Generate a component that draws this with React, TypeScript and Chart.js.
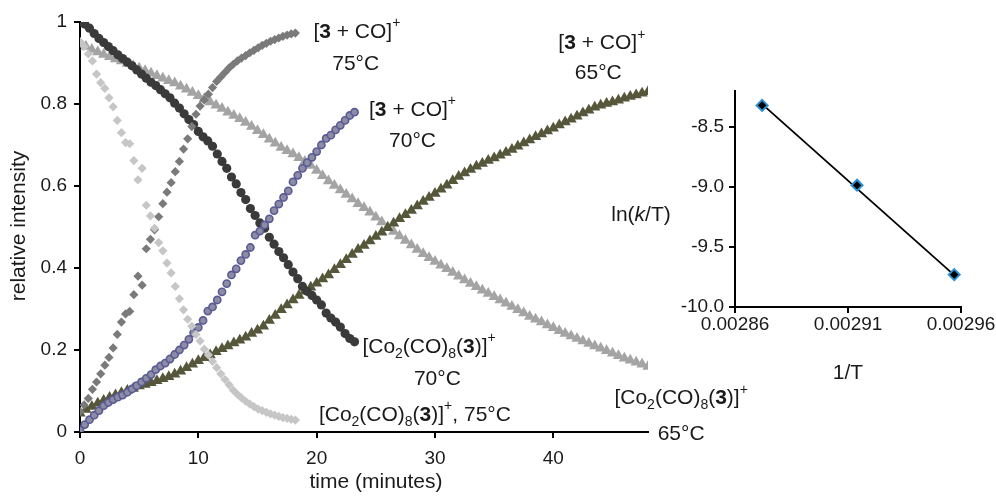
import React, { useEffect, useRef } from 'react';
import { Chart, registerables } from 'chart.js';
Chart.register(...registerables);

const FONT = "'Liberation Sans', Arial, sans-serif";
const TXT = '#1a1a1a';

// ---- 75 °C run (minutes) ----
const T75 = [0,0.35,0.7,1.05,1.4,1.75,2.1,2.45,2.8,3.15,3.5,3.85,4.2,4.55,4.9,5.25,5.6,5.95,6.3,6.65,7,7.35,7.7,8.05,8.4,8.75,9.1,9.45,9.8,10.15,10.5,10.85,11.2,11.55,11.9,12.25,12.6,12.95,13.3,13.65,14,14.35,14.7,15.05,15.4,15.75,16.1,16.45,16.8,17.15,17.5,17.85,18.2];
const CO75 = [0.05,0.066,0.082,0.104,0.122,0.142,0.163,0.182,0.205,0.238,0.268,0.288,0.294,0.335,0.38,0.358,0.447,0.47,0.493,0.525,0.557,0.585,0.608,0.635,0.66,0.69,0.715,0.745,0.775,0.795,0.81,0.824,0.84,0.855,0.866,0.877,0.888,0.897,0.905,0.912,0.918,0.925,0.931,0.937,0.943,0.948,0.953,0.957,0.961,0.965,0.968,0.971,0.973];
const COMPLEX75 = [0.952,0.94,0.922,0.905,0.873,0.852,0.838,0.815,0.793,0.76,0.73,0.706,0.703,0.662,0.615,0.643,0.553,0.527,0.497,0.462,0.442,0.412,0.388,0.355,0.325,0.298,0.275,0.258,0.238,0.222,0.202,0.188,0.172,0.157,0.142,0.128,0.115,0.102,0.092,0.083,0.075,0.068,0.062,0.056,0.052,0.048,0.044,0.041,0.038,0.035,0.033,0.031,0.029];

// ---- 70 °C run ----
const T70 = [0,0.4,0.8,1.2,1.6,2,2.4,2.8,3.2,3.6,4,4.4,4.8,5.2,5.6,6,6.4,6.8,7.2,7.6,8,8.4,8.8,9.2,9.6,10,10.4,10.8,11.2,11.6,12,12.4,12.8,13.2,13.6,14,14.4,14.8,15.2,15.6,16,16.4,16.8,17.2,17.6,18,18.4,18.8,19.2,19.6,20,20.4,20.8,21.2,21.6,22,22.4,22.8,23.2];
const CO70 = [0.005,0.018,0.03,0.041,0.052,0.064,0.072,0.079,0.085,0.09,0.097,0.105,0.113,0.122,0.131,0.14,0.152,0.161,0.168,0.178,0.189,0.2,0.212,0.226,0.242,0.255,0.272,0.295,0.305,0.322,0.342,0.362,0.383,0.398,0.418,0.433,0.45,0.48,0.49,0.505,0.52,0.54,0.556,0.572,0.588,0.61,0.626,0.643,0.657,0.67,0.684,0.7,0.716,0.724,0.737,0.748,0.76,0.772,0.78];
const COMPLEX70 = [1.0,0.995,0.985,0.972,0.96,0.95,0.94,0.93,0.92,0.911,0.902,0.893,0.883,0.873,0.863,0.853,0.845,0.835,0.825,0.815,0.802,0.79,0.776,0.762,0.75,0.733,0.72,0.71,0.697,0.678,0.66,0.643,0.622,0.605,0.584,0.567,0.545,0.528,0.51,0.497,0.475,0.458,0.44,0.425,0.408,0.39,0.374,0.355,0.343,0.333,0.322,0.31,0.29,0.278,0.268,0.256,0.24,0.228,0.22];

// ---- 65 °C run ----
const T65 = [0,0.5,1,1.5,2,2.5,3,3.5,4,4.5,5,5.5,6,6.5,7,7.5,8,8.5,9,9.5,10,10.5,11,11.5,12,12.5,13,13.5,14,14.5,15,15.5,16,16.5,17,17.5,18,18.5,19,19.5,20,20.5,21,21.5,22,22.5,23,23.5,24,24.5,25,25.5,26,26.5,27,27.5,28,28.5,29,29.5,30,30.5,31,31.5,32,32.5,33,33.5,34,34.5,35,35.5,36,36.5,37,37.5,38,38.5,39,39.5,40,40.5,41,41.5,42,42.5,43,43.5,44,44.5,45,45.5,46,46.5,47,47.5,48];
const CO65 = [0.046,0.055,0.062,0.07,0.077,0.084,0.09,0.096,0.101,0.106,0.112,0.116,0.12,0.125,0.13,0.135,0.141,0.148,0.157,0.165,0.174,0.181,0.188,0.196,0.203,0.21,0.217,0.224,0.231,0.24,0.248,0.258,0.272,0.284,0.298,0.31,0.322,0.333,0.343,0.353,0.363,0.373,0.383,0.396,0.408,0.42,0.433,0.445,0.455,0.466,0.477,0.487,0.498,0.509,0.52,0.53,0.54,0.551,0.562,0.572,0.582,0.592,0.602,0.613,0.623,0.632,0.64,0.648,0.655,0.662,0.668,0.675,0.682,0.689,0.697,0.705,0.712,0.72,0.727,0.734,0.741,0.749,0.756,0.763,0.77,0.778,0.785,0.792,0.797,0.801,0.805,0.809,0.814,0.818,0.822,0.826,0.83];
const COMPLEX65 = [0.948,0.94,0.933,0.927,0.921,0.915,0.91,0.905,0.899,0.893,0.887,0.881,0.875,0.869,0.863,0.857,0.851,0.843,0.836,0.828,0.82,0.813,0.805,0.797,0.789,0.78,0.772,0.764,0.755,0.745,0.735,0.725,0.714,0.704,0.694,0.686,0.678,0.669,0.66,0.65,0.638,0.625,0.612,0.601,0.59,0.579,0.568,0.557,0.547,0.536,0.524,0.512,0.5,0.489,0.478,0.467,0.456,0.445,0.435,0.425,0.416,0.407,0.398,0.389,0.38,0.371,0.362,0.354,0.346,0.338,0.33,0.322,0.314,0.306,0.298,0.29,0.282,0.275,0.268,0.261,0.254,0.247,0.24,0.234,0.228,0.222,0.216,0.21,0.204,0.198,0.192,0.186,0.18,0.175,0.17,0.165,0.16];

const TIME_TICKS = [0, 10, 20, 30, 40];
const INTENSITY_TICKS = [0, 0.2, 0.4, 0.6, 0.8, 1];

// ---- Eyring inset ----
const INV_T = [0.002872, 0.002914, 0.002957];
const LN_K_T = [-8.32, -8.985, -9.73];
const FIT_X = [0.002872, 0.002957];
const FIT_Y = [-8.31, -9.735];
const INV_T_TICKS = [0.00286, 0.00291, 0.00296];
const LN_TICKS = [-10, -9.5, -9, -8.5];

type Part = [string, string];
const CO_PLUS: Part[] = [['[', 'n'], ['3', 'b'], [' + CO]', 'n'], ['+', 'sup']];
const COMPLEX_PLUS: Part[] = [['[Co', 'n'], ['2', 'sub'], ['(CO)', 'n'], ['8', 'sub'], ['(', 'n'], ['3', 'b'], [')]', 'n'], ['+', 'sup']];

const LABELS: { parts: Part[]; t: number; v: number }[] = [
  { parts: CO_PLUS, t: 23.4, v: 0.961 },
  { parts: [['75°C', 'n']], t: 23.3, v: 0.883 },
  { parts: CO_PLUS, t: 28.1, v: 0.771 },
  { parts: [['70°C', 'n']], t: 28.1, v: 0.695 },
  { parts: CO_PLUS, t: 44.1, v: 0.934 },
  { parts: [['65°C', 'n']], t: 43.8, v: 0.861 },
  { parts: COMPLEX_PLUS, t: 29.5, v: 0.193 },
  { parts: [['70°C', 'n']], t: 30.2, v: 0.115 },
  { parts: [...COMPLEX_PLUS, [', 75°C', 'n']], t: 28.3, v: 0.027 },
  { parts: COMPLEX_PLUS, t: 50.8, v: 0.068 },
  { parts: [['65°C', 'n']], t: 50.8, v: -0.02 },
];

function fontFor(s: string, size: number) {
  if (s === 'b') return `bold ${size}px ${FONT}`;
  if (s === 'i') return `italic ${size}px ${FONT}`;
  if (s === 'sub' || s === 'sup') return `${Math.round(size * 0.66)}px ${FONT}`;
  return `${size}px ${FONT}`;
}

function drawRich(ctx: CanvasRenderingContext2D, parts: Part[], cx: number, y: number, size: number) {
  let w = 0;
  for (const [t, s] of parts) { ctx.font = fontFor(s, size); w += ctx.measureText(t).width; }
  let x = cx - w / 2;
  ctx.save();
  ctx.fillStyle = TXT;
  ctx.textAlign = 'left';
  ctx.textBaseline = 'alphabetic';
  for (const [t, s] of parts) {
    ctx.font = fontFor(s, size);
    const dy = s === 'sub' ? size * 0.25 : s === 'sup' ? -size * 0.5 : 0;
    ctx.fillText(t, x, y + dy);
    x += ctx.measureText(t).width;
  }
  ctx.restore();
}

const pts = (xs: number[], ys: number[]) => xs.map((x, i) => ({ x, y: ys[i] }));

const axisCommon = (size: number, pad: number) => ({
  grid: { display: true, drawOnChartArea: false, drawTicks: true, tickLength: 6, color: '#000', lineWidth: 2 },
  border: { display: true, color: '#000', width: 2 },
  ticks: { color: TXT, font: { family: FONT, size }, padding: pad, maxRotation: 0, autoSkip: false },
});

export default function App() {
  const mainRef = useRef<HTMLCanvasElement>(null);
  const insetRef = useRef<HTMLCanvasElement>(null);

  useEffect(() => {
    const mainPlugin = {
      id: 'mainText',
      afterDraw(chart: any) {
        const ctx = chart.ctx as CanvasRenderingContext2D;
        const xs = chart.scales.x, ys = chart.scales.y;
        for (const l of LABELS) {
          drawRich(ctx, l.parts, xs.getPixelForValue(l.t), ys.getPixelForValue(l.v), 21);
        }
        ctx.save();
        ctx.fillStyle = TXT;
        ctx.font = `21px ${FONT}`;
        ctx.textAlign = 'center';
        ctx.textBaseline = 'middle';
        ctx.fillText('time (minutes)', 376, 482);
        ctx.translate(19, 226);
        ctx.rotate(-Math.PI / 2);
        ctx.fillText('relative intensity', 0, 0);
        ctx.restore();
      },
    };

    const main = new Chart(mainRef.current!, {
      type: 'scatter',
      data: {
        datasets: [
          { data: pts(T75, COMPLEX75), pointStyle: 'rectRot', pointRadius: 4.6, backgroundColor: '#c6c6c6', borderColor: '#c6c6c6', borderWidth: 0 },
          { data: pts(T75, CO75), pointStyle: 'rectRot', pointRadius: 4.6, backgroundColor: '#7a7a7a', borderColor: '#7a7a7a', borderWidth: 0 },
          { data: pts(T70, CO70), pointStyle: 'circle', pointRadius: 3.6, backgroundColor: '#8c8ca4', borderColor: '#5a5a96', borderWidth: 1.6 },
          { data: pts(T70, COMPLEX70), pointStyle: 'circle', pointRadius: 4.6, backgroundColor: '#3a3a3a', borderColor: '#3a3a3a', borderWidth: 0 },
          { data: pts(T65, CO65), pointStyle: 'triangle', pointRadius: 6.5, backgroundColor: '#56573a', borderColor: '#56573a', borderWidth: 0 },
          { data: pts(T65, COMPLEX65), pointStyle: 'triangle', pointRadius: 6.5, backgroundColor: '#a4a4a4', borderColor: '#a4a4a4', borderWidth: 0 },
        ] as any,
      },
      options: {
        responsive: false,
        animation: false,
        devicePixelRatio: 1,
        layout: { padding: { left: 0, top: 22, right: 348, bottom: 0 } },
        plugins: { legend: { display: false }, tooltip: { enabled: false } },
        scales: {
          x: {
            type: 'linear', min: 0, max: 48,
            ...axisCommon(19, 9),
            ticks: { ...axisCommon(19, 9).ticks, callback: (v: any) => String(v) },
            afterBuildTicks: (s: any) => { s.ticks = TIME_TICKS.map((value) => ({ value })); },
            afterFit: (s: any) => { s.height = 67; },
          },
          y: {
            type: 'linear', min: 0, max: 1,
            ...axisCommon(19, 7),
            ticks: { ...axisCommon(19, 7).ticks, callback: (v: any) => (v === 0 ? '0' : v === 1 ? '1' : Number(v).toFixed(1)) },
            afterBuildTicks: (s: any) => { s.ticks = INTENSITY_TICKS.map((value) => ({ value })); },
            afterFit: (s: any) => { s.width = 80; },
          },
        } as any,
      },
      plugins: [mainPlugin],
    });

    const insetPlugin = {
      id: 'insetText',
      afterDraw(chart: any) {
        const ctx = chart.ctx as CanvasRenderingContext2D;
        drawRich(ctx, [['ln(', 'n'], ['k', 'i'], ['/T)', 'n']], 41, 161, 21);
        drawRich(ctx, [['1/T', 'n']], 248, 319, 21);
      },
    };

    const inset = new Chart(insetRef.current!, {
      type: 'scatter',
      data: {
        datasets: [
          { data: pts(INV_T, LN_K_T), pointStyle: 'rectRot', pointRadius: 5.5, backgroundColor: '#000', borderColor: '#2b8fd3', borderWidth: 2 },
          { data: pts(FIT_X, FIT_Y), showLine: true, pointRadius: 0, borderColor: '#000', borderWidth: 1.8 },
        ] as any,
      },
      options: {
        responsive: false,
        animation: false,
        devicePixelRatio: 1,
        layout: { padding: { left: 0, top: 31, right: 35, bottom: 0 } },
        plugins: { legend: { display: false }, tooltip: { enabled: false } },
        scales: {
          x: {
            type: 'linear', min: 0.00286, max: 0.00296,
            ...axisCommon(19, 0),
            ticks: { ...axisCommon(19, 0).ticks, callback: (v: any) => Number(v).toFixed(5) },
            afterBuildTicks: (s: any) => { s.ticks = INV_T_TICKS.map((value) => ({ value })); },
            afterFit: (s: any) => { s.height = 83; },
          },
          y: {
            type: 'linear', min: -10, max: -8.2,
            ...axisCommon(19, 5),
            ticks: { ...axisCommon(19, 5).ticks, callback: (v: any) => Number(v).toFixed(1) },
            afterBuildTicks: (s: any) => { s.ticks = LN_TICKS.map((value) => ({ value })); },
            afterFit: (s: any) => { s.width = 135; },
          },
        } as any,
      },
      plugins: [insetPlugin],
    });

    return () => { main.destroy(); inset.destroy(); };
  }, []);

  return (
    <div style={{ position: 'absolute', left: 0, top: 0, width: 996, height: 499, background: '#fff' }}>
      <canvas ref={mainRef} width={996} height={499} style={{ position: 'absolute', left: 0, top: 0, width: 996, height: 499 }} />
      <canvas ref={insetRef} width={396} height={330} style={{ position: 'absolute', left: 600, top: 60, width: 396, height: 330 }} />
    </div>
  );
}
